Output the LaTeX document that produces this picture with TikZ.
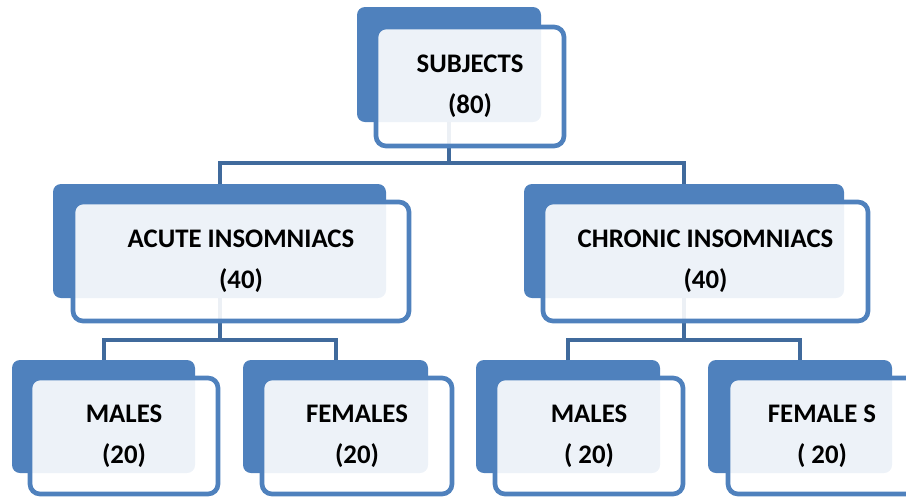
\documentclass[tikz,border=0pt]{standalone}
\usepackage{fontspec}
\setmainfont{Carlito}
\usepackage{tikz}
\usetikzlibrary{positioning,calc}
\definecolor{boxblue}{RGB}{79,129,189}
\definecolor{linkblue}{RGB}{64,106,156}

\begin{document}
\begin{tikzpicture}[x=0.75pt,y=-0.75pt,
				back/.style={rectangle,rounded corners=6pt,fill=boxblue,inner sep=0pt},
				front/.style={rectangle,rounded corners=7.5pt,draw=boxblue,line width=3.5pt,fill=white,fill opacity=0.9,text opacity=1,inner sep=0pt,align=center,font=\fontsize{20.1}{31}\selectfont\bfseries},
				link/.style={draw=linkblue,line width=3pt}
				]
				\useasboundingbox (0,0) rectangle (906,497);
				
				\node[back,minimum width=138pt,minimum height=86.25pt] (subjB) at (449,64.5) {};
				\node[back,minimum width=249.75pt,minimum height=85.5pt] (acuteB) at (219.5,241) {};
				\node[back,minimum width=240pt,minimum height=85.5pt] (chronB) at (684,241) {};
				\node[back,minimum width=137.25pt,minimum height=84.75pt] (amaleB) at (103.5,416.5) {};
				\node[back,minimum width=138.75pt,minimum height=84.75pt] (afemB) at (335.5,416.5) {};
				\node[back,minimum width=138pt,minimum height=84.75pt] (cmaleB) at (568,416.5) {};
				\node[back,minimum width=138pt,minimum height=84.75pt] (cfemB) at (800,416.5) {};
				
				\coordinate (bus0) at (449,163);
				\coordinate (bus1) at (219.5,340);
				\coordinate (bus2) at (684,340);
				\draw[link] (subjB.south) -- (bus0) -| (acuteB.north);
				\draw[link] (bus0) -| (chronB.north);
				\draw[link] (acuteB.south) -- (bus1) -| (amaleB.north);
				\draw[link] (bus1) -| (afemB.north);
				\draw[link] (chronB.south) -- (bus2) -| (cmaleB.north);
				\draw[link] (bus2) -| (cfemB.north);
				
				\node[front,minimum width=141pt,minimum height=89.25pt] (subj) at (470,86.5) {SUBJECTS\\(80)};
				\node[front,minimum width=252pt,minimum height=89.25pt] (acute) at (241,261.5) {ACUTE INSOMNIACS\\(40)};
				\node[front,minimum width=243.75pt,minimum height=89.25pt] (chron) at (705.5,261.5) {CHRONIC INSOMNIACS\\(40)};
				\node[front,minimum width=141pt,minimum height=87pt] (amale) at (124,436) {MALES\\(20)};
				\node[front,minimum width=142.5pt,minimum height=87pt] (afem) at (357,436) {FEMALES\\(20)};
				\node[front,minimum width=141pt,minimum height=87pt] (cmale) at (589,436) {MALES\\( 20)};
				\node[front,minimum width=141pt,minimum height=87pt] (cfem) at (822,436) {FEMALE S\\( 20)};
\end{tikzpicture}
\end{document}
